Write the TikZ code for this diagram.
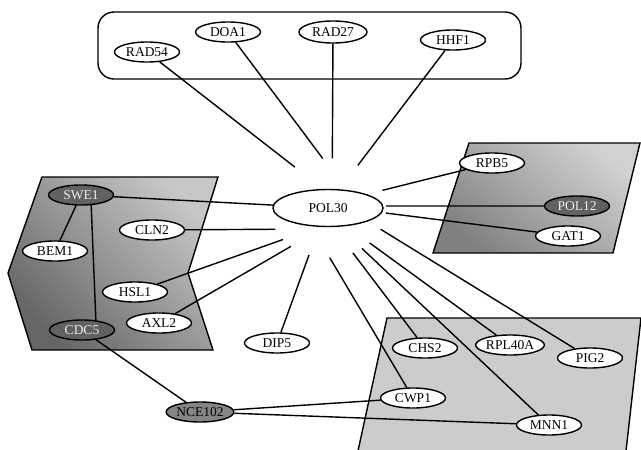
\documentclass[tikz,border=0pt]{standalone}
\usepackage{fontspec}
\setmainfont{Liberation Serif}
\usetikzlibrary{shapes.geometric}

\begin{document}
\begin{tikzpicture}[x=1pt,y=-1pt,line width=1.4pt,
  gene/.style={ellipse,draw,fill=white,minimum width=65pt,minimum height=20pt,
    inner sep=0.3pt,font=\fontsize{13.5}{14}\selectfont},
  hit node/.style={gene,fill=black!62,text=black!8},
  mid node/.style={gene,fill=black!48},
  group/.style={draw,line width=1.4pt}]
   \useasboundingbox (0,0) rectangle (641,450);
   % complexes
   \draw[group,rounded corners=16pt] (98,12) rectangle (521,79);
   \draw[group,top color=black!22,bottom color=black!60,shading angle=-45]
     (42,177) -- (218,177) -- (188,273) -- (213,350) -- (32,350) -- (8,273) -- cycle;
   \draw[group,top color=black!18,bottom color=black!50,shading angle=-40]
     (469,143) -- (640,143) -- (613,253) -- (433,253) -- cycle;
   \begin{scope}
     \clip (0,0) rectangle (641,450);
     \draw[group,fill=black!20] (387,318) -- (641,318) -- (625,460) -- (356,460) -- cycle;
   \end{scope}
   % genes
   \node[gene,minimum width=110pt,minimum height=37pt] (POL30) at (328,208) {POL30};
   \node[ellipse,minimum width=115pt,minimum height=98pt] (hub) at (POL30) {};
   \node[gene] (RAD54)  at (147,52)  {RAD54};
   \node[gene] (DOA1)   at (228,32)  {DOA1};
   \node[gene,minimum width=68pt,minimum height=22pt] (RAD27) at (333,32) {RAD27};
   \node[gene] (HHF1)   at (453,40)  {HHF1};
   \node[hit node] (SWE1) at (81,195) {SWE1};
   \node[gene] (BEM1)   at (55,251)  {BEM1};
   \node[gene] (CLN2)   at (152,230) {CLN2};
   \node[gene] (HSL1)   at (135,292) {HSL1};
   \node[gene] (AXL2)   at (159,323) {AXL2};
   \node[hit node] (CDC5) at (82,330) {CDC5};
   \node[gene] (RPB5)   at (492,163) {RPB5};
   \node[hit node] (POL12) at (577,206) {POL12};
   \node[gene] (GAT1)   at (568,236) {GAT1};
   \node[gene] (DIP5)   at (277,343) {DIP5};
   \node[gene] (CHS2)   at (425,348) {CHS2};
   \node[gene] (RPL40A) at (510,345) {RPL40A};
   \node[gene] (PIG2)   at (590,358) {PIG2};
   \node[gene] (CWP1)   at (413,398) {CWP1};
   \node[gene] (MNN1)   at (549,425) {MNN1};
   \node[mid node] (NCE102) at (200,412) {NCE102};
    \path
    (hub.129) edge (RAD54)
    (hub.96)  edge (DOA1)
    (hub.85)  edge (RAD27)
    (hub.55)  edge (HHF1)
    (hub.18)  edge (RPB5)
    (hub.2)   edge (POL12)
    (hub.-5)  edge (GAT1)
    (POL30)   edge (SWE1)
    (hub.202) edge (CLN2)
    (hub.215) edge (HSL1)
    (hub.226) edge (AXL2)
    (hub.248) edge (DIP5)
    (hub.272) edge (CWP1)
    (hub.299) edge (CHS2)
    (hub.310) edge (MNN1)
    (hub.320) edge (RPL40A)
    (hub.338) edge (PIG2)
    (SWE1)    edge (BEM1)
    (SWE1.-45) edge (CDC5.35)
    (CDC5)    edge (NCE102)
    (NCE102)  edge (CWP1)
              edge (MNN1);
\end{tikzpicture}
\end{document}
